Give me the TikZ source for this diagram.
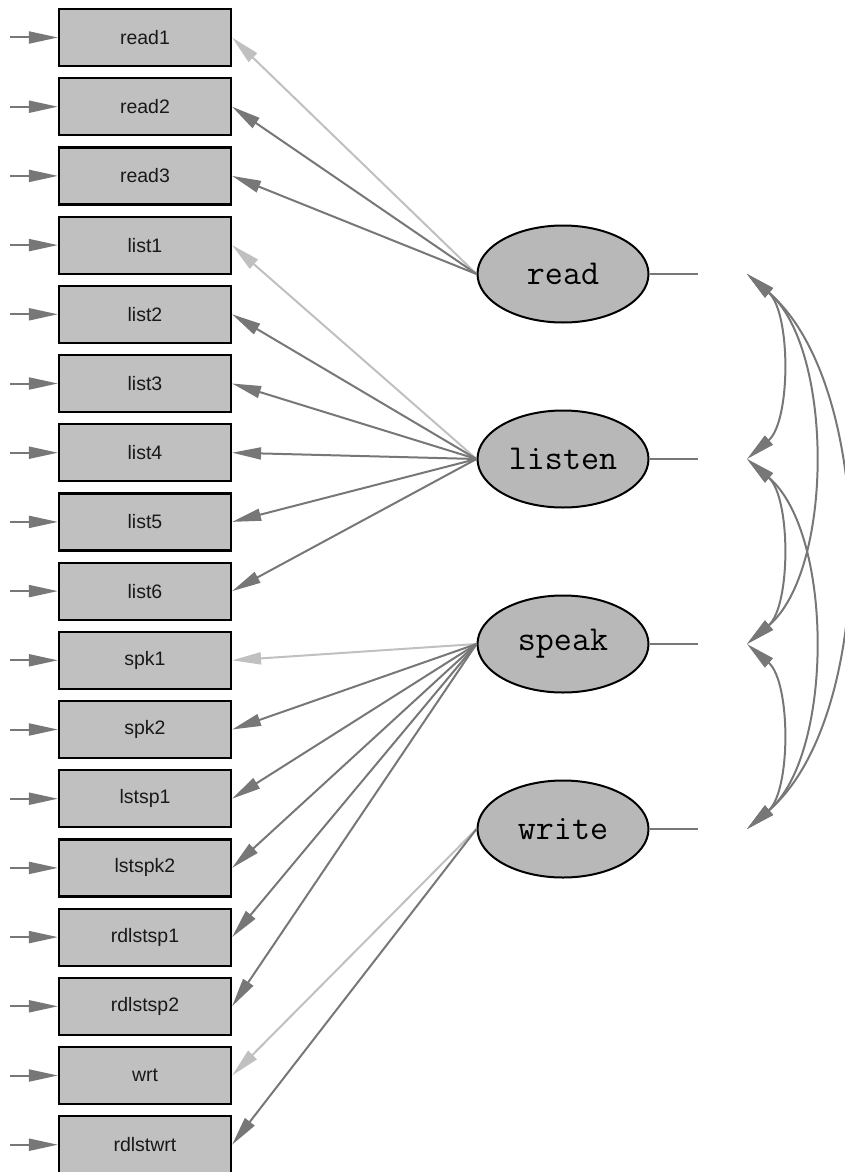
\documentclass[tikz,border=0pt]{standalone}
\usepackage{fontspec}
\setsansfont{Liberation Sans}
\usetikzlibrary{arrows.meta,shapes.geometric}
\definecolor{arrdark}{HTML}{777777}
\definecolor{arrlight}{HTML}{C0C0C0}
\definecolor{boxfill}{HTML}{C0C0C0}
\definecolor{ellfill}{HTML}{B8B8B8}
\tikzset{
  obs/.style={draw=black, line width=2.2pt, fill=boxfill, minimum width=172pt, minimum height=57pt, inner sep=0pt, font=\sffamily\fontsize{19.5}{20}\selectfont, text=black!90},
  lat/.style={ellipse, draw=black, line width=2pt, fill=ellfill, minimum width=171pt, minimum height=97pt, inner sep=0pt, font=\ttfamily\fontsize{35}{36}\selectfont},
  tipA/.tip={Triangle[length=29pt,width=12pt]},
  load/.style={draw=arrdark, line width=2pt, -tipA},
  fixed/.style={load, draw=arrlight},
  resid/.style={draw=arrdark, line width=2pt, -tipA},
  tail/.style={draw=arrdark, line width=2pt},
  cov/.style={draw=arrdark, line width=2pt, tipA-tipA}
}
\begin{document}
\begin{tikzpicture}[x=1pt,y=-1pt]
\useasboundingbox (0,0) rectangle (845,1172);
% observed variables
\foreach \n [count=\i from 0] in {read1,read2,read3,list1,list2,list3,list4,list5,list6,spk1,spk2,lstsp1,lstspk2,rdlstsp1,rdlstsp2,wrt,rdlstwrt}{
  \node[obs] (\n) at (145,37.5+69.2*\i) {\n};
  \coordinate (e\n) at (10,37.5+69.2*\i);
  \draw[resid] (e\n) -- (\n.west);
}
% latent variables
\foreach \f [count=\k from 0] in {read,listen,speak,write}{
  \node[lat] (F\f) at (563,274+185*\k) {\f};
  \coordinate (T\f) at (698,274+185*\k);
  \coordinate (C\f) at (747,274+185*\k);
  \draw[tail] (F\f.east) -- (T\f);
}
% loadings
\draw[fixed] (Fread.west) -- (read1.east);
\foreach \n in {read2,read3} \draw[load] (Fread.west) -- (\n.east);
\draw[fixed] (Flisten.west) -- (list1.east);
\foreach \n in {list2,list3,list4,list5,list6} \draw[load] (Flisten.west) -- (\n.east);
\draw[fixed] (Fspeak.west) -- (spk1.east);
\foreach \n in {spk2,lstsp1,lstspk2,rdlstsp1,rdlstsp2} \draw[load] (Fspeak.west) -- (\n.east);
\draw[fixed] (Fwrite.west) -- (wrt.east);
\draw[load] (Fwrite.west) -- (rdlstwrt.east);
% covariances
\draw[cov] (Cread) .. controls (791,312) and (791,421) .. (Clisten);
\draw[cov] (Clisten) .. controls (791,497) and (791,606) .. (Cspeak);
\draw[cov] (Cspeak) .. controls (791,682) and (791,791) .. (Cwrite);
\draw[cov] (Cread) .. controls (834,348) and (834,570) .. (Cspeak);
\draw[cov] (Clisten) .. controls (834,533) and (834,755) .. (Cwrite);
\draw[cov] (Cread) .. controls (878,386) and (878,717) .. (Cwrite);
\end{tikzpicture}
\end{document}
